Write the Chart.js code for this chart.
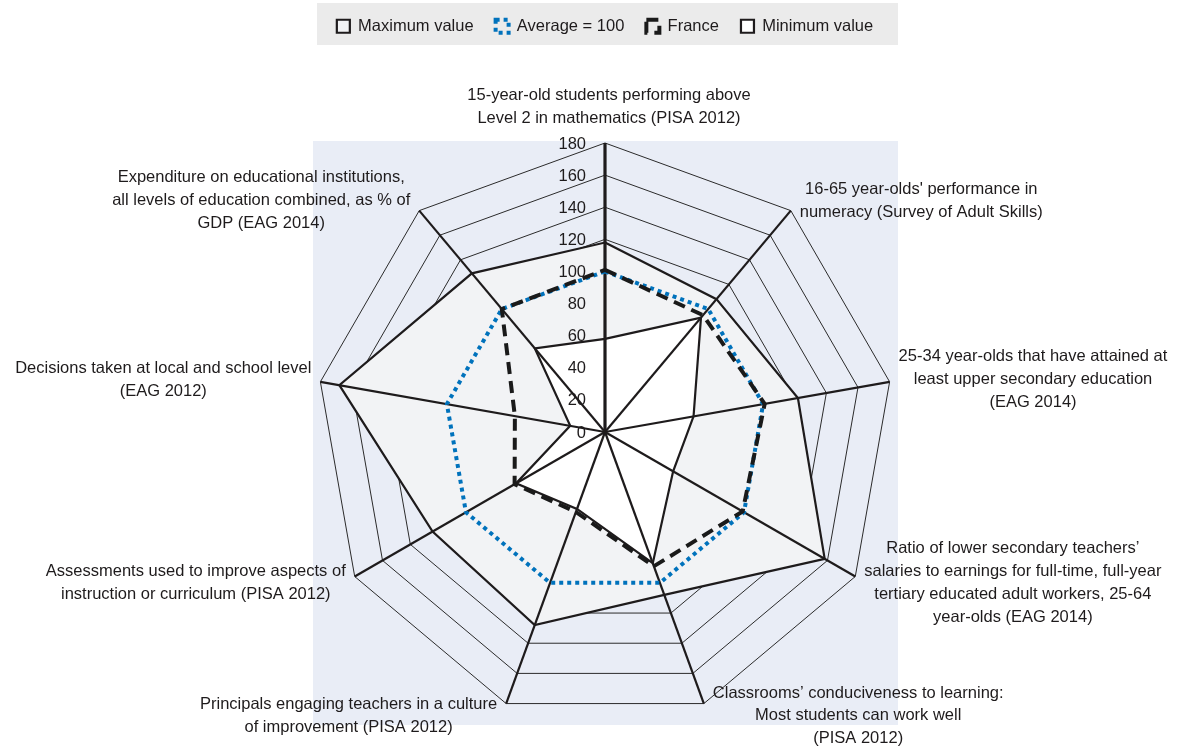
<!DOCTYPE html>
<html lang="en">
<head>
    <meta charset="UTF-8">
    <title>France - education indicators compared with OECD</title>
    <script src="https://cdn.jsdelivr.net/npm/chart.js"></script>
    <style>
        html, body { margin: 0; padding: 0; background: #fff; }
        .chart { width: 1177px; height: 750px; }
    </style>
</head>
<body>
    <div class="chart">
        <canvas id="radarChart" width="1177" height="750"></canvas>
    </div>
    <script>
        // Indicators, one per axis (clockwise from the top), split into lines
        const indicators = [
            ['15-year-old students performing above', 'Level 2 in mathematics (PISA 2012)'],
            ["16-65 year-olds' performance in", 'numeracy (Survey of Adult Skills)'],
            ['25-34 year-olds that have attained at', 'least upper secondary education', '(EAG 2014)'],
            ['Ratio of lower secondary teachers\u2019', 'salaries to earnings for full-time, full-year', 'tertiary educated adult workers, 25-64', 'year-olds (EAG 2014)'],
            ['Classrooms\u2019 conduciveness to learning:', 'Most students can work well', '(PISA 2012)'],
            ['Principals engaging teachers in a culture', 'of improvement (PISA 2012)'],
            ['Assessments used to improve aspects of', 'instruction or curriculum (PISA 2012)'],
            ['Decisions taken at local and school level', '(EAG 2012)'],
            ['Expenditure on educational institutions,', 'all levels of education combined, as % of', 'GDP (EAG 2014)']
        ];

        // Index values, OECD average = 100
        const maxValues     = [118, 108, 122, 158, 108, 128, 124, 168, 129];
        const averageValues = [100, 100, 100, 100, 100, 100, 100, 100, 100];
        const franceValues  = [101,  95, 101,  99,  89,  53,  65,  57, 100];
        const minValues     = [ 58,  93,  56,  49,  87,  51,  64,  22,  68];

        const scaleTicks = [0, 20, 40, 60, 80, 100, 120, 140, 160, 180];

        const FONT_FAMILY = '"Liberation Sans", Arial, Helvetica, sans-serif';
        const FONT_SIZE = 16.5;
        const INK = '#1e1b1c';

        Chart.defaults.font.family = FONT_FAMILY;
        Chart.defaults.font.size = FONT_SIZE;
        Chart.defaults.color = INK;

        // Light blue panel behind the radar and grey band behind the legend
        const panelPlugin = {
            id: 'panel',
            beforeDraw(chart) {
                const ctx = chart.ctx;
                const r = chart.scales.r;
                ctx.save();
                ctx.fillStyle = '#ffffff';
                ctx.fillRect(0, 0, chart.width, chart.height);
                ctx.fillStyle = '#e9edf6';
                ctx.fillRect(r.xCenter - 292, r.yCenter - 291, 585, 584);
                ctx.fillStyle = '#ebebeb';
                ctx.fillRect(r.xCenter - 288, 3, 581, 42);
                ctx.restore();
            }
        };

        // Legend keeps its items at the top but reserves room down to the radar
        const legendSpacePlugin = {
            id: 'legendSpace',
            beforeInit(chart) {
                const fit = chart.legend.fit;
                chart.legend.fit = function () {
                    fit.bind(chart.legend)();
                    this.height = 147;
                };
            }
        };

        // Axis spokes go over the filled max/min areas
        const spokePlugin = {
            id: 'spokes',
            afterDatasetDraw(chart, args) {
                if (args.index !== 3) return;
                const ctx = chart.ctx;
                const r = chart.scales.r;
                ctx.save();
                ctx.strokeStyle = INK;
                ctx.lineCap = 'butt';
                for (let i = 0; i < chart.data.labels.length; i++) {
                    const p = r.getPointPosition(i, r.drawingArea);
                    ctx.lineWidth = i === 0 ? 3.2 : 2.2;
                    ctx.beginPath();
                    ctx.moveTo(r.xCenter, r.yCenter);
                    ctx.lineTo(p.x, p.y);
                    ctx.stroke();
                }
                ctx.restore();
            }
        };

        // Scale numbers left of the top axis, and centred multi-line axis titles
        const labelPlugin = {
            id: 'axisText',
            afterDraw(chart) {
                const ctx = chart.ctx;
                const r = chart.scales.r;
                const lineHeight = 22.8;
                ctx.save();
                ctx.font = FONT_SIZE + 'px ' + FONT_FAMILY;
                ctx.fillStyle = INK;

                ctx.textAlign = 'right';
                ctx.textBaseline = 'middle';
                r.ticks.forEach(t => {
                    const y = r.yCenter - r.getDistanceFromCenterForValue(t.value);
                    ctx.fillText(String(t.value), r.xCenter - 19, y + 1);
                });

                ctx.textAlign = 'center';
                chart.data.labels.forEach((lines, i) => {
                    const a = r.getIndexAngle(i);
                    const s = Math.sin(a);
                    const c = Math.cos(a);
                    const p = r.getPointPosition(i, r.drawingArea);
                    const w = Math.max(...lines.map(l => ctx.measureText(l).width));
                    const h = lines.length * lineHeight;
                    let cx, cy;
                    if (Math.abs(s) < 0.01) {
                        cx = p.x + 4;
                        cy = p.y - 13 - h / 2;
                    } else {
                        cx = p.x + Math.sign(s) * (9 + w / 2);
                        cy = p.y - c * 13;
                    }
                    lines.forEach((line, k) => {
                        ctx.fillText(line, cx, cy - h / 2 + lineHeight * (k + 0.5));
                    });
                });
                ctx.restore();
            }
        };

        const ctx = document.getElementById('radarChart').getContext('2d');
        const radarChart = new Chart(ctx, {
            type: 'radar',
            data: {
                labels: indicators,
                datasets: [
                    {
                        label: 'Maximum value',
                        data: maxValues,
                        borderColor: INK,
                        borderWidth: 2.2,
                        backgroundColor: '#f2f3f5',
                        fill: true,
                        order: 4
                    },
                    {
                        label: 'Average = 100',
                        data: averageValues,
                        borderColor: '#0072bc',
                        borderWidth: 4,
                        borderDash: [4, 4],
                        backgroundColor: 'rgba(0,0,0,0)',
                        fill: false,
                        order: 2
                    },
                    {
                        label: 'France',
                        data: franceValues,
                        borderColor: '#1a1a1a',
                        borderWidth: 4,
                        borderDash: [12, 7],
                        backgroundColor: 'rgba(0,0,0,0)',
                        fill: false,
                        order: 1
                    },
                    {
                        label: 'Minimum value',
                        data: minValues,
                        borderColor: INK,
                        borderWidth: 2.2,
                        backgroundColor: '#ffffff',
                        fill: true,
                        order: 3
                    }
                ]
            },
            options: {
                responsive: false,
                animation: false,
                layout: {
                    padding: { top: -4, bottom: 29, left: 33, right: 0 }
                },
                elements: {
                    line: { tension: 0 },
                    point: { radius: 0, hoverRadius: 0 }
                },
                scales: {
                    r: {
                        min: scaleTicks[0],
                        max: scaleTicks[scaleTicks.length - 1],
                        ticks: { display: false, stepSize: scaleTicks[1] - scaleTicks[0] },
                        pointLabels: { display: false },
                        grid: { color: '#2b2b2b', lineWidth: 1 },
                        angleLines: { display: false }
                    }
                },
                plugins: {
                    legend: {
                        position: 'top',
                        labels: {
                            boxWidth: 13,
                            boxHeight: 13,
                            padding: 22,
                            color: INK,
                            font: { size: FONT_SIZE },
                            sort: (a, b) => a.datasetIndex - b.datasetIndex
                        }
                    },
                    tooltip: { enabled: false }
                }
            },
            plugins: [panelPlugin, legendSpacePlugin, spokePlugin, labelPlugin]
        });
    </script>
</body>
</html>
